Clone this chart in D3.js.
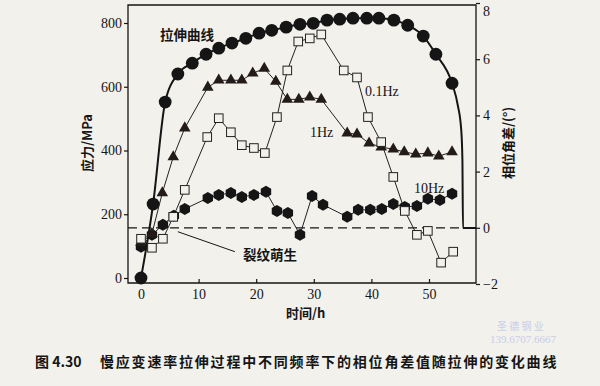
<!DOCTYPE html>
<html>
<head>
<meta charset="utf-8">
<script src="https://cdn.jsdelivr.net/npm/d3@7"></script>
<style>
  body { margin: 0; background: #f2f1ec; }
  svg { display: block; }
</style>
</head>
<body>
<div id="chart"></div>
<script>
// tensile curve: [time h, stress MPa]
const tensile = [[0,0],[2.1,232],[4.2,552],[6.4,640],[8.9,674],[11.3,702],[13.5,721],[15.8,737],
  [18.2,752],[20.5,768],[22.7,777],[25.2,787],[27.6,796],[29.9,799],[32.3,809],[34.5,812],
  [36.8,815],[39.2,815],[41.3,815],[43.9,809],[46.3,793],[49.0,759],[51.2,702],[54.0,611]];
// end of the curve after the last point (fracture)
const tensileTail = [[55.0,542],[55.6,464],[55.8,370],[55.9,157],[58.2,157]];

// phase angle difference (deg) vs time (h)
const hz01 = [[0,-0.39],[1.9,-0.71],[3.8,-0.39],[5.6,0.39],[7.6,1.35],[11.5,3.23],[13.5,3.9],
  [15.6,3.4],[17.5,2.94],[19.6,2.84],[21.5,2.66],[23.6,3.94],[25.4,5.6],[27.3,6.63],[29.3,6.74],
  [31.3,6.88],[35.2,5.6],[37.5,5.35],[39.4,3.94],[41.7,3.05],[43.8,1.81],[45.8,0.6],[47.9,-0.25],
  [49.8,-0.11],[52.1,-1.24],[54.2,-0.85]];
const hz1 = [[0,-0.53],[1.9,-0.21],[3.7,1.24],[5.6,2.52],[7.6,3.55],[11.6,5.0],[13.5,5.25],
  [15.6,5.25],[17.5,5.25],[19.4,5.5],[21.4,5.67],[23.4,5.21],[25.4,4.57],[27.4,4.57],[29.3,4.65],
  [31.3,4.57],[35.8,3.37],[37.5,3.33],[39.6,3.01],[41.7,2.87],[43.8,2.8],[45.7,2.7],[47.7,2.62],
  [49.8,2.66],[51.7,2.55],[54.0,2.7]];
const hz10 = [[0,-0.67],[1.9,-0.25],[3.8,0.11],[5.7,0.43],[7.6,0.67],[11.6,1.06],[13.5,1.17],
  [15.6,1.24],[17.5,1.1],[19.6,1.17],[21.7,1.28],[23.6,0.6],[25.5,0.53],[27.6,-0.25],[29.7,1.13],
  [31.6,0.82],[35.8,0.39],[37.7,0.64],[39.8,0.64],[41.8,0.67],[43.8,0.85],[45.8,0.74],[47.9,0.78],
  [49.8,1.03],[51.9,0.99],[54.0,1.21]];

const crackPhase = 0;
const stressTicks = [0, 200, 400, 600, 800];
const phaseTicks = [-2, 0, 2, 4, 6, 8];
const timeTicks = [0, 10, 20, 30, 40, 50];

const W = 600, H = 386;
const fLeft = 128, fRight = 476, fTop = 5, fBottom = 283;
const paper = "#f2f1ec", ink = "#151515";

var svg = d3.select("#chart").append("svg")
  .attr("width", W)
  .attr("height", H);

var x = d3.scaleLinear().domain([0, 50]).range([141, 429]);
var yL = d3.scaleLinear().domain([0, 800]).range([278, 23]);
var yR = d3.scaleLinear().domain([-2, 8]).range([284, 3]);

// frame
svg.append("path")
  .attr("d", `M${fLeft},${fTop}H${fRight}V${fBottom}H${fLeft}Z`)
  .attr("fill", "none")
  .attr("stroke", ink)
  .attr("stroke-width", 1.3);

let styleAxis = g => {
  g.select(".domain").remove();
  g.selectAll("line").attr("stroke", ink).attr("stroke-width", 1.2);
  g.selectAll("text")
    .attr("fill", ink)
    .style("font-family", "'Liberation Serif', serif")
    .style("font-size", "14px");
};

svg.append("g")
  .attr("transform", `translate(${fLeft},0)`)
  .call(d3.axisLeft(yL).tickValues(stressTicks).tickSize(4).tickPadding(2))
  .call(styleAxis);

var rightAxis = svg.append("g")
  .attr("transform", `translate(${fRight},0)`)
  .call(d3.axisRight(yR).tickValues(phaseTicks).tickSize(4).tickPadding(3))
  .call(styleAxis);
// top label sits at the very edge; nudge it inside
rightAxis.selectAll(".tick text").filter(d => d === 8).attr("dy", "0.9em");

svg.append("g")
  .attr("transform", `translate(0,${fBottom})`)
  .call(d3.axisBottom(x).tickValues(timeTicks).tickSize(-4).tickPadding(6))
  .call(styleAxis);

// crack initiation line
svg.append("line")
  .attr("x1", fLeft)
  .attr("x2", x(55.9))
  .attr("y1", yR(crackPhase))
  .attr("y2", yR(crackPhase))
  .attr("stroke", ink)
  .attr("stroke-width", 1.3)
  .attr("stroke-dasharray", "9,5");

// series lines
let lineR = d3.line().x(d => x(d[0])).y(d => yR(d[1]));
[hz10, hz1, hz01].forEach(s => {
  svg.append("path")
    .attr("d", lineR(s))
    .attr("fill", "none")
    .attr("stroke", "#222")
    .attr("stroke-width", 1);
});

svg.append("path")
  .attr("d", d3.line().x(d => x(d[0])).y(d => yL(d[1])).curve(d3.curveMonotoneX)(tensile.concat(tensileTail)))
  .attr("fill", "none")
  .attr("stroke", ink)
  .attr("stroke-width", 2);

// markers
let hexagon = r => d3.range(6).map(i => {
  let a = Math.PI / 3 * i - Math.PI / 2;
  return [r * Math.cos(a), r * Math.sin(a)];
});

svg.append("g").selectAll("path")
  .data(hz10)
  .join("path")
  .attr("d", d => "M" + hexagon(6).join("L") + "Z")
  .attr("transform", d => `translate(${x(d[0])},${yR(d[1])})`)
  .attr("fill", ink);

svg.append("g").selectAll("path")
  .data(hz1)
  .join("path")
  .attr("d", d3.symbol(d3.symbolTriangle, 58))
  .attr("transform", d => `translate(${x(d[0])},${yR(d[1])})`)
  .attr("fill", "#231a1a");

svg.append("g").selectAll("rect")
  .data(hz01)
  .join("rect")
  .attr("x", d => x(d[0]) - 4.3)
  .attr("y", d => yR(d[1]) - 4.3)
  .attr("width", 8.6)
  .attr("height", 8.6)
  .attr("fill", paper)
  .attr("stroke", "#222")
  .attr("stroke-width", 1);

svg.append("g").selectAll("circle")
  .data(tensile)
  .join("circle")
  .attr("cx", d => x(d[0]))
  .attr("cy", d => yL(d[1]))
  .attr("r", 6.4)
  .attr("fill", ink);

// annotation leader for crack initiation
svg.append("line")
  .attr("x1", x(6.4)).attr("y1", yR(-0.14))
  .attr("x2", x(16.3)).attr("y2", yR(-0.85))
  .attr("stroke", ink)
  .attr("stroke-width", 1);

let cjk = "'Noto Sans CJK SC', sans-serif";
let serif = "'Liberation Serif', serif";

let label = (txt, px, py, font, size, weight) => svg.append("text")
  .attr("x", px)
  .attr("y", py)
  .attr("fill", ink)
  .style("font-family", font)
  .style("font-size", size + "px")
  .style("font-weight", weight || "normal")
  .text(txt);

label("拉伸曲线", 160, 40, cjk, 13.5, "bold");
label("0.1Hz", 365, 96, serif, 14);
label("1Hz", 310, 137, serif, 14);
label("10Hz", 414, 193, serif, 14);
label("裂纹萌生", 243, 260, cjk, 13.5, "bold");
label("时间/h", 286, 318, cjk, 13, "bold");

label("应力/MPa", 0, 0, cjk, 13, "bold")
  .attr("text-anchor", "middle")
  .attr("transform", "translate(92,143) rotate(-90)");
label("相位角差/(°)", 0, 0, cjk, 13, "bold")
  .attr("text-anchor", "middle")
  .attr("transform", "translate(513,143) rotate(-90)");

// caption
label("图 4.30", 35, 367, cjk, 14, "bold");
label("慢应变速率拉伸过程中不同频率下的相位角差值随拉伸的变化曲线", 100, 367, cjk, 14, "bold")
  .style("letter-spacing", "1.8px");

// faint watermark
label("圣 德 钢 业", 497, 330, cjk, 10).attr("fill", "#c9cde9");
label("139.6707.6667", 490, 343, serif, 11).attr("fill", "#c9cde9");
</script>
</body>
</html>
